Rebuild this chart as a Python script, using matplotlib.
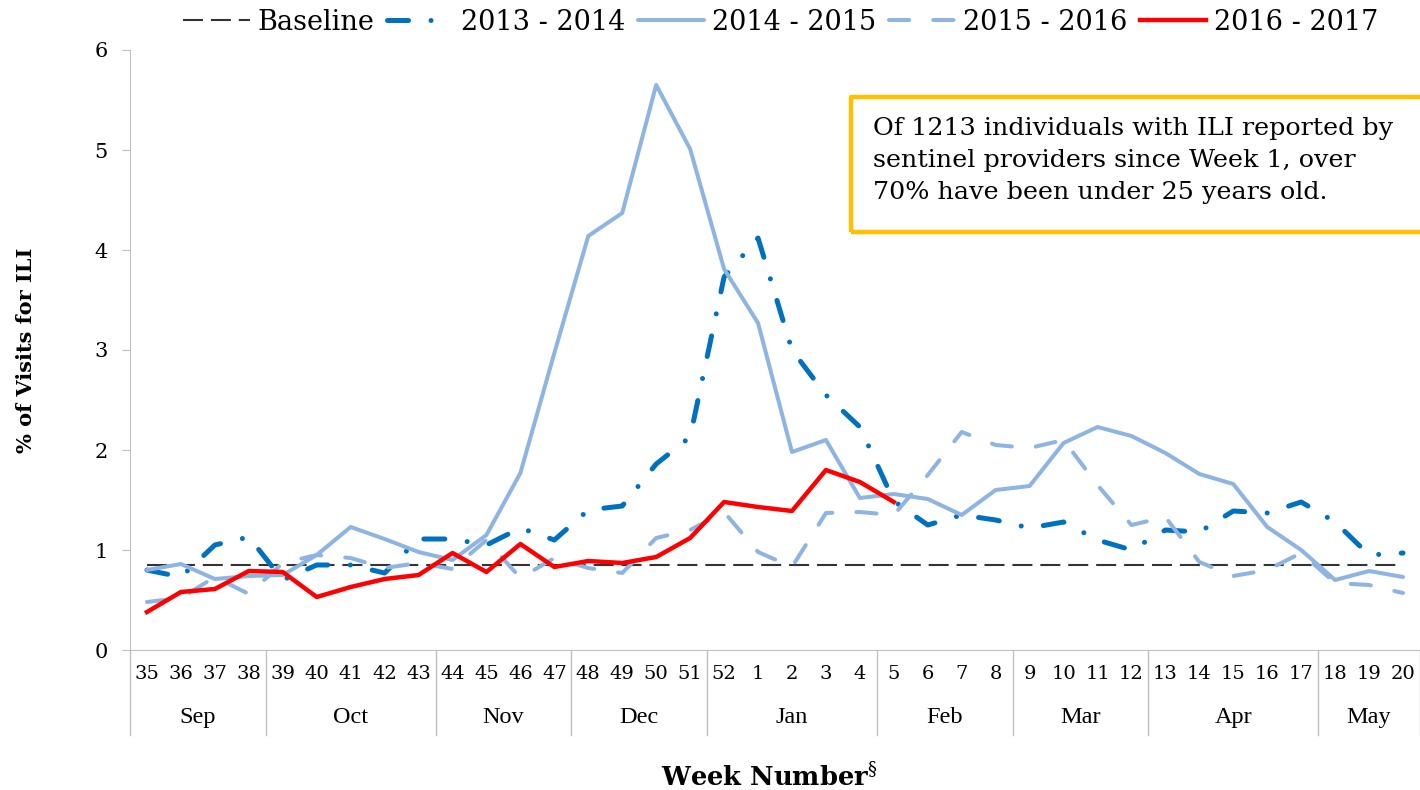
import matplotlib
matplotlib.use("Agg")
import matplotlib.pyplot as plt
from matplotlib.patches import Rectangle

plt.rcParams['font.family'] = ['DejaVu Serif']
plt.rcParams['mathtext.fontset'] = 'dejavuserif'

# week numbers on the category axis (season runs week 35 -> week 20)
weeks = [35, 36, 37, 38, 39, 40, 41, 42, 43, 44, 45, 46, 47, 48, 49, 50, 51, 52,
         1, 2, 3, 4, 5, 6, 7, 8, 9, 10, 11, 12, 13, 14, 15, 16, 17, 18, 19, 20]

months = ["Sep", "Oct", "Nov", "Dec", "Jan", "Feb", "Mar", "Apr", "May"]
weeks_per_month = [4, 5, 4, 4, 5, 4, 4, 5, 3]

baseline = 0.85

s2013 = [0.80, 0.73, 1.05, 1.13, 0.70, 0.85, 0.85, 0.77, 1.11, 1.11, 1.05, 1.22, 1.10,
         1.40, 1.44, 1.86, 2.13, 3.73, 4.12, 3.00, 2.55, 2.23, 1.49, 1.25, 1.35, 1.30,
         1.22, 1.28, 1.10, 1.00, 1.20, 1.18, 1.39, 1.37, 1.48, 1.28, 0.95, 0.97]

s2014 = [0.80, 0.86, 0.71, 0.74, 0.75, 0.95, 1.23, 1.11, 0.98, 0.90, 1.15, 1.77, 2.97,
         4.14, 4.37, 5.65, 5.01, 3.81, 3.27, 1.98, 2.10, 1.52, 1.56, 1.51, 1.35, 1.60,
         1.64, 2.07, 2.23, 2.14, 1.97, 1.76, 1.66, 1.23, 1.00, 0.70, 0.79, 0.73]

s2015 = [0.48, 0.52, 0.73, 0.56, 0.87, 0.95, 0.92, 0.82, 0.87, 0.81, 1.10, 0.72, 0.92,
         0.82, 0.77, 1.12, 1.20, 1.38, 0.98, 0.83, 1.37, 1.38, 1.35, 1.75, 2.18, 2.05,
         2.02, 2.10, 1.65, 1.25, 1.33, 0.88, 0.74, 0.80, 0.97, 0.67, 0.65, 0.57]

# current season, only up to week 5
s2016 = [0.38, 0.58, 0.61, 0.79, 0.78, 0.53, 0.63, 0.71, 0.75, 0.97, 0.78, 1.06, 0.83,
         0.89, 0.87, 0.93, 1.12, 1.48, 1.43, 1.39, 1.80, 1.68, 1.48]

note = ("Of 1213 individuals with ILI reported by\n"
        "sentinel providers since Week 1, over\n"
        "70% have been under 25 years old.")

fig = plt.figure(figsize=(14.2, 7.9), dpi=100)
ax = fig.add_axes([130 / 1420, 140 / 790, 1290 / 1420, 600 / 790])

x = list(range(len(weeks)))
grey = "#BFBFBF"

ax.plot(x, [baseline] * len(x), color="#333333", lw=1.5,
        linestyle=(0, (9.6, 3.8)), label="Baseline")
ax.plot(x, s2013, color="#0070C0", lw=3.6, linestyle=(0, (4.2, 4.5, 0.01, 4.5)),
        dash_capstyle="round", solid_joinstyle="round", label="2013 - 2014")
ax.plot(x, s2014, color="#8EB4E3", lw=2.9, solid_joinstyle="round",
        solid_capstyle="round", label="2014 - 2015")
ax.plot(x, s2015, color="#8EB4E3", lw=2.9, linestyle=(0, (5.0, 6.0)),
        dash_capstyle="round", label="2015 - 2016")
ax.plot(x[:len(s2016)], s2016, color="#FF0000", lw=3.2,
        solid_joinstyle="round", label="2016 - 2017")

ax.set_xlim(-0.5, len(weeks) - 0.5)
ax.set_ylim(0, 6)
ax.set_yticks(range(7))
ax.tick_params(axis="y", labelsize=15, length=6, color=grey, pad=10)
ax.set_xticks(x)
ax.set_xticklabels([str(w) for w in weeks])
ax.tick_params(axis="x", labelsize=14, length=0, pad=11)

for side in ["top", "right"]:
    ax.spines[side].set_visible(False)
ax.spines["left"].set_color(grey)
ax.spines["bottom"].set_color(grey)

# month row and the separators under the axis
trans = ax.get_xaxis_transform()
start = 0
ax.plot([-0.5, -0.5], [0, -0.142], color=grey, lw=1, transform=trans, clip_on=False)
for name, n in zip(months, weeks_per_month):
    ax.text(start + (n - 1) / 2, -0.113, name, transform=trans, ha="center",
            va="center", fontsize=17.5, family="Liberation Serif")
    edge = start + n - 0.5
    ax.plot([edge, edge], [0, -0.142], color=grey, lw=1, transform=trans, clip_on=False)
    start += n

ax.set_ylabel("% of Visits for ILI", fontsize=15, fontweight="bold")
ax.yaxis.set_label_coords(-0.073, 0.5)
fig.text(0.542, 1 - 777 / 790, "Week Number$^{§}$", ha="center", va="center",
         fontsize=18.5, fontweight="bold")

fig.legend(loc="center", bbox_to_anchor=(781 / 1420, 1 - 22 / 790), ncol=5,
           frameon=False, fontsize=19.5, handlelength=2.45, handletextpad=0.3,
           columnspacing=0.45, borderaxespad=0)

# note box, its right side runs off the figure
fig.patches.append(Rectangle((851 / 1420, 1 - 232 / 790), 0.45, 135 / 790,
                             transform=fig.transFigure, fill=False,
                             edgecolor="#FFC000", lw=3.2, joinstyle="round"))
fig.text(873 / 1420, 1 - 117 / 790, note, ha="left", va="top", fontsize=18.3,
         linespacing=1.5)

fig.savefig("out.png", dpi=100)
